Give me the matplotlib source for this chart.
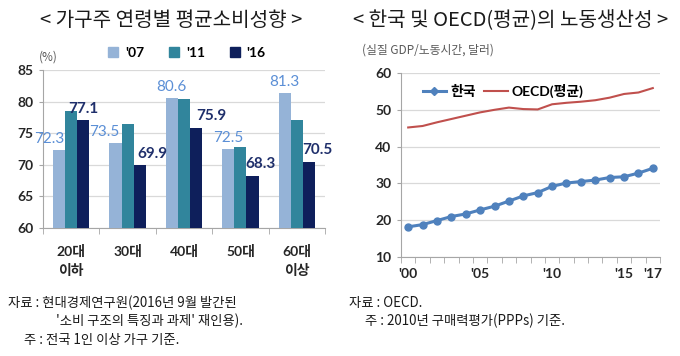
import matplotlib
matplotlib.use("Agg")
import matplotlib.pyplot as plt
import numpy as np
from matplotlib.patches import Patch
from matplotlib.lines import Line2D

plt.rcParams['font.family'] = ['Lato', 'Noto Sans CJK KR', 'DejaVu Sans']

# ---- Left chart data ----
age_groups = ['20대\n이하', '30대', '40대', '50대', '60대\n이상']
series_names = ["'07", "'11", "'16"]
v07 = [72.3, 73.5, 80.6, 72.5, 81.3]
v11 = [78.5, 76.4, 80.4, 72.8, 77.1]
v16 = [77.1, 69.9, 75.9, 68.3, 70.5]
left_yticks = [60, 65, 70, 75, 80, 85]

# ---- Right chart data ----
years = list(range(2000, 2018))
korea = [18.2, 18.8, 19.9, 21.0, 21.7, 22.8, 23.8, 25.2, 26.6, 27.5,
         29.2, 30.1, 30.5, 30.9, 31.6, 31.8, 32.8, 34.1]
oecd = [45.2, 45.6, 46.6, 47.5, 48.4, 49.3, 50.0, 50.6, 50.2, 50.1,
        51.5, 51.9, 52.2, 52.6, 53.3, 54.3, 54.7, 55.9]
year_labels = {2000: "'00", 2005: "'05", 2010: "'10", 2015: "'15", 2017: "'17"}
right_yticks = [10, 20, 30, 40, 50, 60]

c07, c11, c16 = '#95B3D7', '#31859C', '#0E1F5B'
lbl07, lbl16 = '#5B8FD6', '#1F2F6B'
grid_c = '#D9D9D9'
axis_c = '#A6A6A6'
kr_font = ['Noto Sans CJK KR', 'DejaVu Sans']

fig = plt.figure(figsize=(6.8, 3.56), dpi=100)

def fx(px):
    return px / 680.0

def fy(py):
    return 1 - py / 356.0

# ================= Left chart =================
axL = fig.add_axes([fx(43), fy(228), fx(325 - 43), (228 - 70) / 356.0])
x = np.arange(len(age_groups))
w = 0.215
axL.bar(x - w, v07, w, color=c07, zorder=3)
axL.bar(x, v11, w, color=c11, zorder=3)
axL.bar(x + w, v16, w, color=c16, zorder=3)
axL.set_ylim(60, 85)
axL.set_xlim(-0.5, len(age_groups) - 0.5)
axL.set_yticks(left_yticks)
axL.set_yticklabels([str(t) for t in left_yticks], fontsize=10, fontweight='bold', color='#262626')
axL.yaxis.grid(True, color=grid_c, lw=0.9, zorder=0)
for s in ['top', 'right']:
    axL.spines[s].set_visible(False)
axL.spines['left'].set_color(axis_c)
axL.spines['bottom'].set_color(axis_c)
axL.tick_params(axis='y', length=3, color=axis_c, pad=4)
axL.set_xticks(x)
axL.set_xticklabels(age_groups, fontsize=10, fontweight='bold', color='#262626',
                    linespacing=1.6, va='top')
axL.tick_params(axis='x', length=0, pad=12)
axL.set_xticks(np.arange(-0.5, len(age_groups)), minor=True)
axL.tick_params(axis='x', which='minor', length=4, color=axis_c)

dx07 = [-7, -8, 0, 0, 0]
dx16 = [0, 9, 11, 6, 6]
for i in range(len(age_groups)):
    axL.annotate(f"{v07[i]:.1f}", (x[i] - w, v07[i]), xytext=(dx07[i], 3),
                 textcoords='offset points', ha='center', va='bottom',
                 fontsize=11, color=lbl07, zorder=5)
    axL.annotate(f"{v16[i]:.1f}", (x[i] + w, v16[i]), xytext=(dx16[i], 3),
                 textcoords='offset points', ha='center', va='bottom',
                 fontsize=11, color=lbl16, fontweight='bold', zorder=5)

handles = [Patch(color=c, label=n) for c, n in zip([c07, c11, c16], series_names)]
leg = fig.legend(handles=handles, loc='center', bbox_to_anchor=(fx(187), fy(53)),
                 ncol=3, frameon=False, handlelength=0.7, handleheight=0.7,
                 handletextpad=0.5, columnspacing=1.8,
                 prop={'weight': 'bold', 'size': 10})
fig.text(fx(39), fy(57), '(%)', fontsize=8.5, color='#595959', va='center', family=kr_font)

fig.text(fx(171), fy(21), '< 가구주 연령별 평균소비성향 >', fontsize=14.5,
         ha='center', va='center', family=kr_font, fontweight='medium', color='#1a1a1a')

# ================= Right chart =================
axR = fig.add_axes([fx(401), fy(257), fx(660 - 401), (257 - 73) / 356.0])
xi = np.arange(len(years))
axR.plot(xi, oecd, color='#C0504D', lw=1.5, zorder=3, label='OECD(평균)')
axR.plot(xi, korea, color='#4F81BD', lw=2.2, marker='o', ms=5, zorder=4, label='한국')
axR.set_xlim(-0.5, len(years) - 0.5)
axR.set_ylim(10, 60)
axR.set_yticks(right_yticks)
axR.set_yticklabels([str(t) for t in right_yticks], fontsize=10, fontweight='bold', color='#262626')
axR.yaxis.grid(True, color=grid_c, lw=0.9, zorder=0)
for s in ['top', 'right']:
    axR.spines[s].set_visible(False)
axR.spines['left'].set_color(axis_c)
axR.spines['bottom'].set_color(axis_c)
axR.tick_params(axis='y', length=3, color=axis_c, pad=4)
lab_pos = [years.index(y) for y in year_labels]
axR.set_xticks(lab_pos)
axR.set_xticklabels(list(year_labels.values()), fontsize=10, fontweight='bold', color='#262626')
axR.tick_params(axis='x', length=0, pad=8)
axR.set_xticks(np.arange(-0.5, len(years)), minor=True)
axR.tick_params(axis='x', which='minor', length=4, color=axis_c)

hR = [Line2D([], [], color='#4F81BD', lw=2.2, marker='D', ms=4, label='한국'),
      Line2D([], [], color='#C0504D', lw=1.5, label='OECD(평균)')]
fig.legend(handles=hR, loc='center left', bbox_to_anchor=(fx(410), fy(91)),
           ncol=2, frameon=False, handlelength=1.7, handletextpad=0.3,
           columnspacing=0.6, prop={'weight': 'bold', 'size': 10,
                                    'family': ['Lato', 'Noto Sans CJK KR']})
fig.text(fx(362), fy(50), '(실질 GDP/노동시간, 달러)', fontsize=8.5, color='#595959',
         va='center', family=kr_font)
fig.text(fx(511), fy(21), '< 한국 및 OECD(평균)의 노동생산성 >', fontsize=14.5,
         ha='center', va='center', family=kr_font, fontweight='medium', color='#1a1a1a')

# ================= Footnotes =================
fn = dict(fontsize=9.6, color='#1a1a1a', va='center', family=kr_font)
fig.text(fx(8), fy(303), '자료 : 현대경제연구원(2016년 9월 발간된', **fn)
fig.text(fx(56), fy(321), "'소비 구조의 특징과 과제' 재인용).", **fn)
fig.text(fx(24), fy(340), '주 : 전국 1인 이상 가구 기준.', **fn)
fig.text(fx(349), fy(303), '자료 : OECD.', **fn)
fig.text(fx(365), fy(321), '주 : 2010년 구매력평가(PPPs) 기준.', **fn)

fig.savefig('out.png', dpi=100)
